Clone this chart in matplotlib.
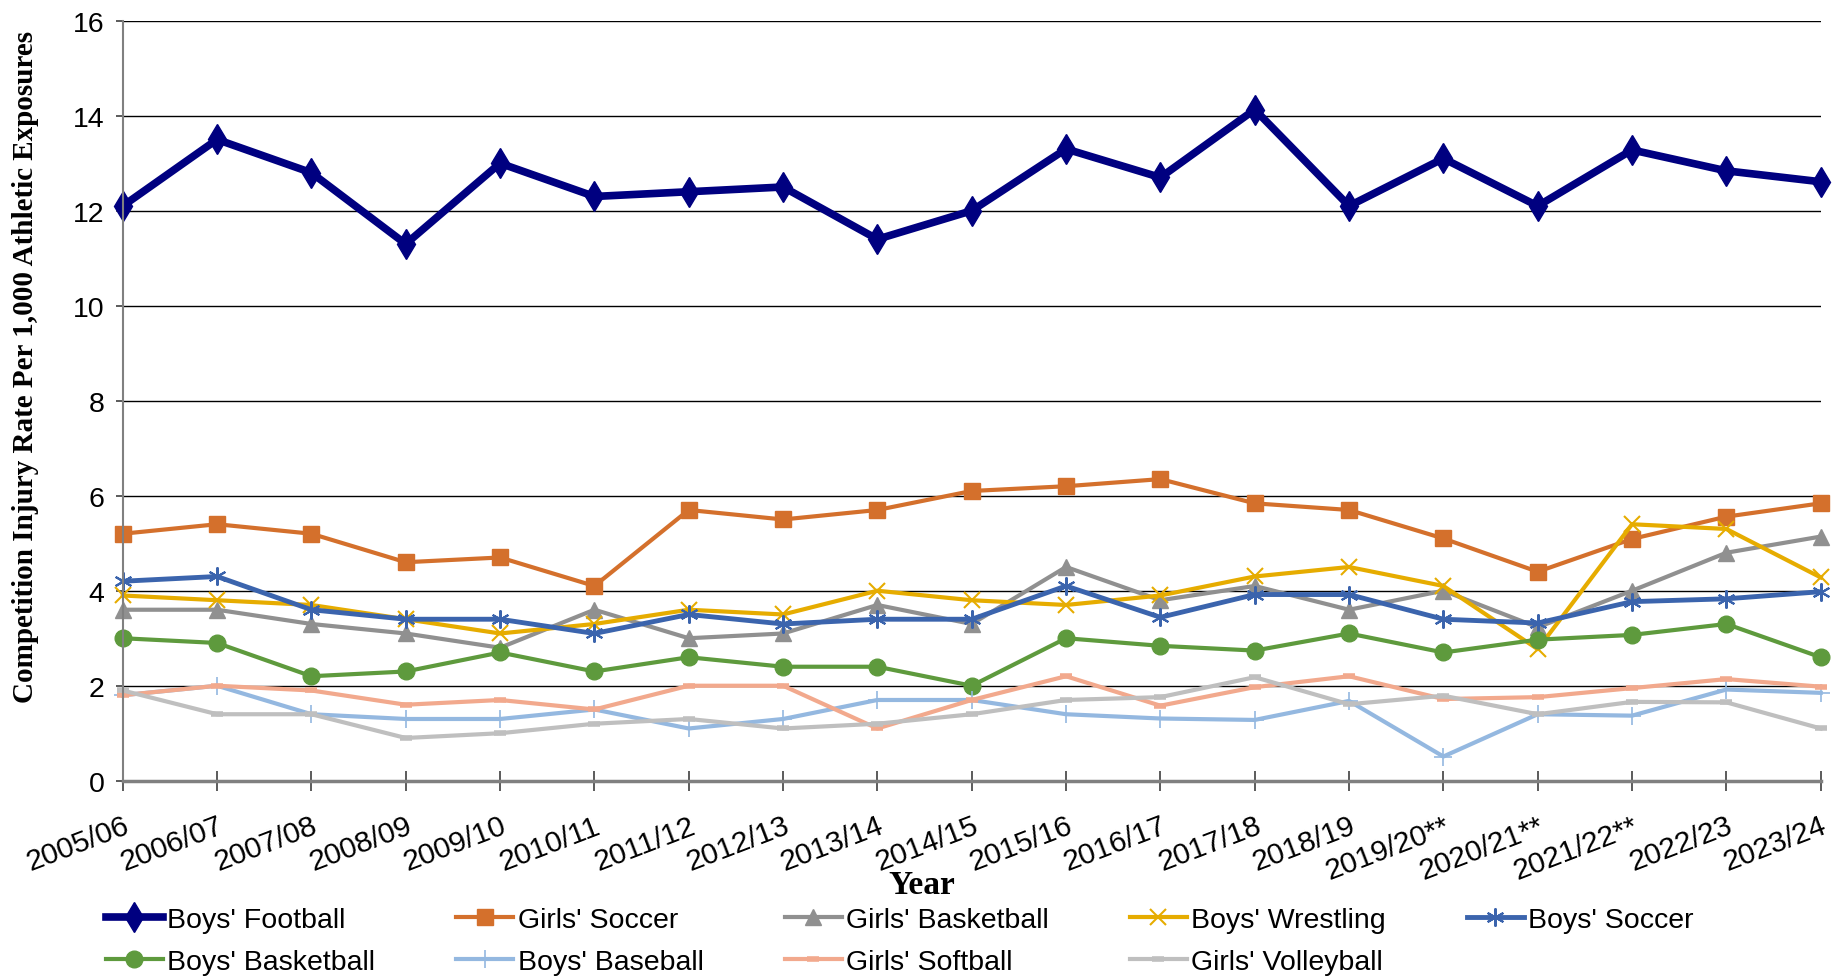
import matplotlib.pyplot as plt

years = ['2005/06', '2006/07', '2007/08', '2008/09', '2009/10', '2010/11', '2011/12',
         '2012/13', '2013/14', '2014/15', '2015/16', '2016/17', '2017/18', '2018/19',
         '2019/20**', '2020/21**', '2021/22**', '2022/23', '2023/24']

boys_football = [12.1, 13.5, 12.8, 11.3, 13.0, 12.3, 12.4, 12.5, 11.4, 12.0, 13.3, 12.7,
                 14.13, 12.1, 13.1, 12.1, 13.28, 12.84, 12.61]
girls_soccer = [5.2, 5.4, 5.2, 4.6, 4.7, 4.1, 5.7, 5.5, 5.7, 6.1, 6.2, 6.35, 5.84, 5.7,
                5.1, 4.4, 5.09, 5.56, 5.84]
girls_basketball = [3.6, 3.6, 3.3, 3.1, 2.8, 3.6, 3.0, 3.1, 3.7, 3.3, 4.5, 3.8, 4.1, 3.6,
                    4.0, 3.23, 4.0, 4.8, 5.14]
boys_wrestling = [3.9, 3.8, 3.7, 3.4, 3.1, 3.3, 3.6, 3.5, 4.0, 3.8, 3.7, 3.9, 4.3, 4.5,
                  4.1, 2.77, 5.4, 5.3, 4.28]
boys_soccer = [4.2, 4.3, 3.6, 3.4, 3.4, 3.1, 3.5, 3.3, 3.4, 3.4, 4.1, 3.44, 3.92, 3.92,
               3.4, 3.32, 3.77, 3.83, 3.98]
boys_basketball = [3.0, 2.9, 2.2, 2.3, 2.7, 2.3, 2.6, 2.4, 2.4, 2.0, 3.0, 2.84, 2.74, 3.1,
                   2.7, 2.97, 3.07, 3.3, 2.6]
boys_baseball = [1.8, 2.0, 1.4, 1.3, 1.3, 1.5, 1.1, 1.3, 1.7, 1.7, 1.4, 1.31, 1.28, 1.68,
                 0.51, 1.4, 1.37, 1.92, 1.85]
girls_softball = [1.8, 2.0, 1.9, 1.6, 1.7, 1.5, 2.0, 2.0, 1.1, 1.7, 2.2, 1.58, 1.97, 2.2,
                  1.72, 1.76, 1.95, 2.14, 1.98]
girls_volleyball = [1.9, 1.4, 1.4, 0.9, 1.0, 1.2, 1.3, 1.1, 1.2, 1.4, 1.7, 1.76, 2.18, 1.61,
                    1.79, 1.4, 1.66, 1.65, 1.1]

plt.rcParams['font.family'] = ['Liberation Sans', 'DejaVu Sans']

fig = plt.figure(figsize=(18.43, 9.79), dpi=100)
ax = fig.add_axes([0.0666, 0.2015, 0.9213, 0.7763])

x = list(range(len(years)))

series = [
    ("Boys' Football", boys_football, '#000080', 'd', 15, 5.5, 1.0),
    ("Girls' Soccer", girls_soccer, '#D4702C', 's', 12, 3.0, 1.0),
    ("Girls' Basketball", girls_basketball, '#909090', '^', 12, 3.0, 1.0),
    ("Boys' Wrestling", boys_wrestling, '#E6AC00', 'x', 12, 3.0, 1.5),
    ("Boys' Soccer", boys_soccer, '#3B64AD', (6, 2, 0), 13, 3.5, 1.5),
    ("Boys' Basketball", boys_basketball, '#5E9A3D', 'o', 12, 3.0, 1.0),
    ("Boys' Baseball", boys_baseball, '#94B8E0', '+', 13, 3.0, 1.2),
    ("Girls' Softball", girls_softball, '#F2A98D', '_', 9, 3.0, 4.0),
    ("Girls' Volleyball", girls_volleyball, '#BFBFBF', '_', 9, 3.0, 4.0),
]

handles = []
for name, vals, color, marker, ms, lw, mew in series:
    h, = ax.plot(x, vals, color=color, marker=marker, markersize=ms, linewidth=lw,
                 markeredgewidth=mew, markeredgecolor=color, label=name, clip_on=False)
    handles.append(h)

ax.set_xlim(0, len(years) - 1)
ax.set_ylim(0, 16)
ax.set_yticks(range(0, 17, 2))
ax.set_xticks(x)
ax.set_xticklabels(years, rotation=21, ha='right', va='top', rotation_mode='anchor')

ax.yaxis.grid(True, color='black', linewidth=1.0)
ax.set_axisbelow(True)
ax.spines['top'].set_visible(False)
ax.spines['right'].set_visible(False)
ax.spines['left'].set_color('#808080')
ax.spines['left'].set_linewidth(1.5)
ax.spines['bottom'].set_color('#808080')
ax.spines['bottom'].set_linewidth(2.5)
ax.tick_params(axis='x', direction='inout', length=14, width=1.2, color='#404040',
               labelsize=21.5, pad=15)
ax.tick_params(axis='y', direction='out', length=5, width=1.2, color='#404040',
               labelsize=20.5, pad=8)

fig.text(26 / 1843, 1 - 367 / 979, 'Competition Injury Rate Per 1,000 Athletic Exposures',
         rotation=90, ha='center', va='center', family='Liberation Serif',
         fontweight='bold', fontsize=21)
fig.text(922 / 1843, 1 - 886 / 979, 'Year', ha='center', va='center',
         family='Liberation Serif', fontweight='bold', fontsize=24)

# legend filled row by row (matplotlib fills columns first)
order = [0, 5, 1, 6, 2, 7, 3, 8, 4]
fig.legend([handles[i] for i in order], [series[i][0] for i in order],
           loc='upper left', bbox_to_anchor=(106 / 1843, 1 - 908 / 979), ncol=5,
           frameon=False, fontsize=20.5, borderpad=0, borderaxespad=0,
           handlelength=2.0, handletextpad=0.15, columnspacing=2.85, labelspacing=0.55)

fig.savefig('out.png', dpi=100)
